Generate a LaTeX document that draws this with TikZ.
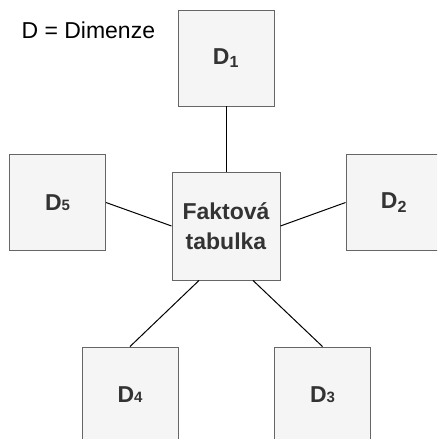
\documentclass[tikz,border=0pt]{standalone}
\usepackage{fontspec}
\setmainfont{Liberation Sans}
\definecolor{boxfill}{HTML}{F5F5F5}
\definecolor{boxline}{HTML}{666666}
\definecolor{boxtext}{HTML}{333333}
\begin{document}
\begin{tikzpicture}[x=1pt,y=-1pt,
  dimbox/.style={draw=boxline,fill=boxfill,line width=0.9pt,minimum width=96pt,minimum height=96pt,inner sep=0pt,text=boxtext,font=\fontsize{23}{30.5}\selectfont\bfseries},
  factbox/.style={dimbox,minimum width=108pt,minimum height=108pt,align=center},
  conn/.style={draw=black,line width=1pt}]
\useasboundingbox (0,0) rectangle (437,439);
\clip (0,0) rectangle (437,439);
\node[anchor=base west,font=\fontsize{23}{27}\selectfont] (legend) at (18,38) {D = Dimenze};
\node[dimbox] (D1) at (226,58) {D\textsubscript{1}};
\node[dimbox] (D5) at (57.5,202.5) {D{\fontsize{15}{18}\selectfont 5}};
\node[factbox] (C) at (226,226) {Faktová\\tabulka};
\node[dimbox] (D2) at (394,202.5) {D\textsubscript{2}};
\node[dimbox] (D4) at (130,395) {D{\fontsize{15}{18}\selectfont 4}};
\node[dimbox] (D3) at (322.5,395) {D{\fontsize{15}{18}\selectfont 3}};
\draw[conn] (D1.south) -- (C.north);
\draw[conn] (D5.east) -- (C.west);
\draw[conn] (C.east) -- (D2.west);
\draw[conn] ([xshift=-27pt]C.south) -- (D4.north);
\draw[conn] ([xshift=27pt]C.south) -- (D3.north);
\end{tikzpicture}
\end{document}
